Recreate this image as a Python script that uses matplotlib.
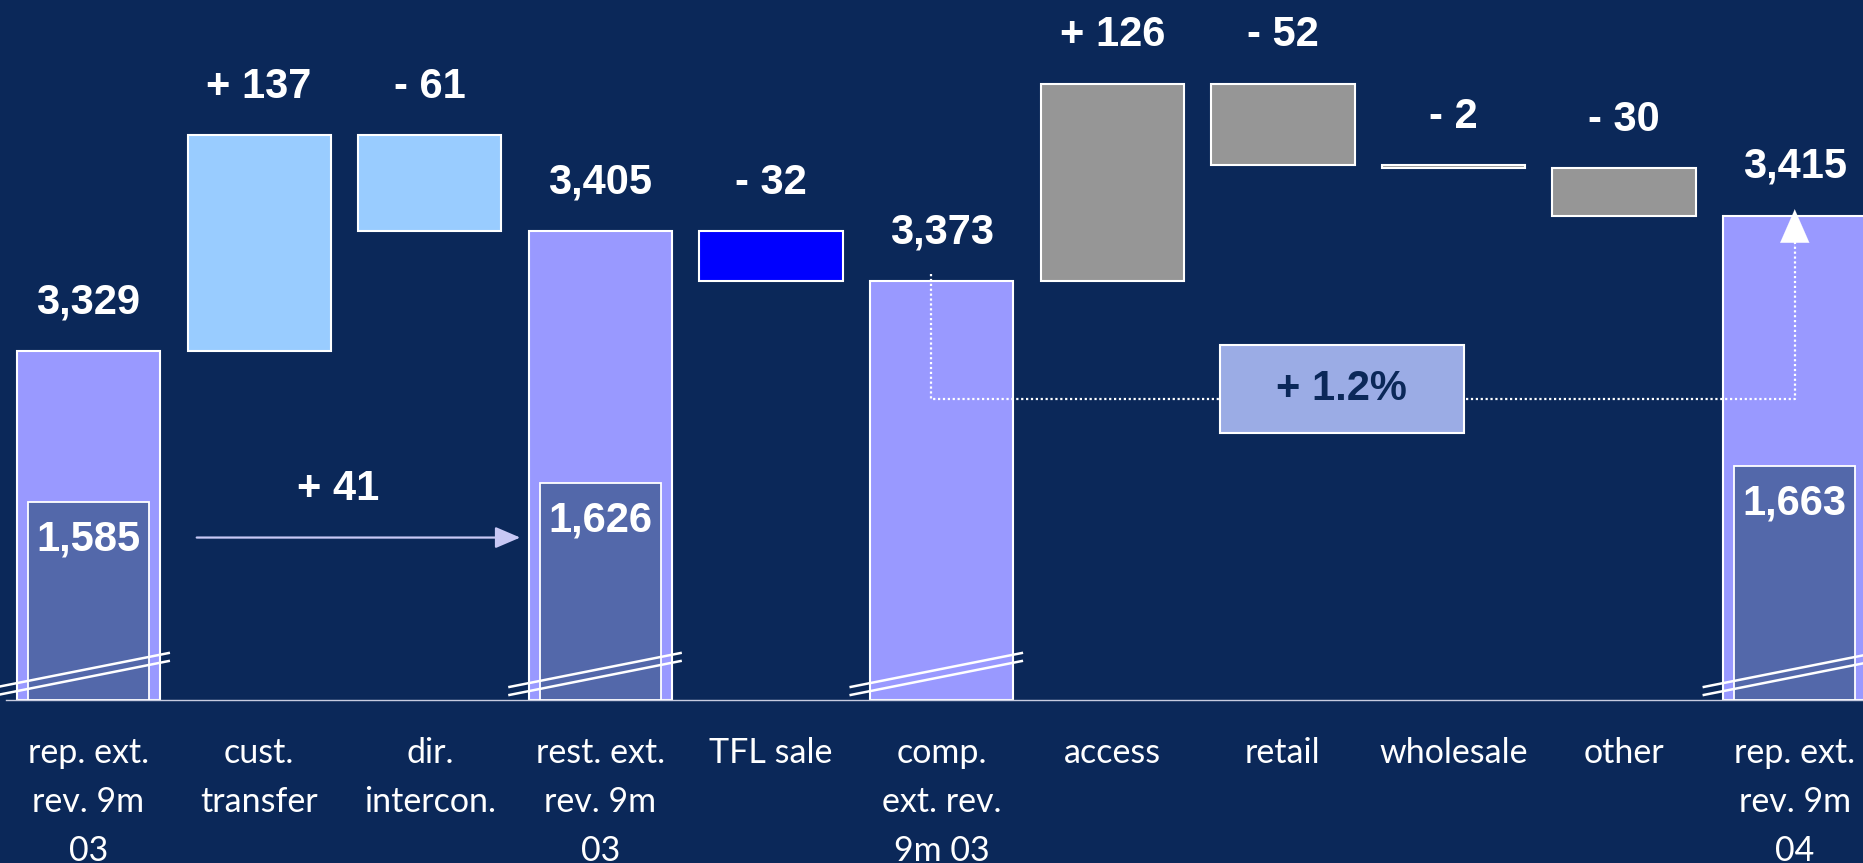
import numpy as np
import matplotlib.pyplot as plt
from matplotlib.patches import Rectangle

# bridge of external revenue, 9m 03 -> 9m 04
categories = ["rep. ext.\nrev. 9m\n03", "cust.\ntransfer", "dir.\nintercon.",
              "rest. ext.\nrev. 9m\n03", "TFL sale", "comp.\next. rev.\n9m 03",
              "access", "retail", "wholesale", "other", "rep. ext.\nrev. 9m\n04"]
values = [3329, 137, -61, 3405, -32, 3373, 126, -52, -2, -30, 3415]
is_total = [True, False, False, True, False, True, False, False, False, False, True]

# domestic part shown inside the total bars
inner_pos = [0, 3, 10]
inner_values = [1585, 1626, 1663]

BG = "#0B2859"
bar_colors = ["#9999FF", "#99CCFF", "#99CCFF", "#9999FF", "#0000FF", "#9999FF",
              "#969696", "#969696", "#969696", "#969696", "#9999FF"]

# broken axes: both scales start well above zero
BASE, TOP = 3106.6, 3552.2
IN_BASE, IN_TOP = 1150.8, 2682.9

plt.rcParams['font.family'] = ['Liberation Sans', 'DejaVu Sans']

fig = plt.figure(figsize=(18.63, 8.63), dpi=100, facecolor=BG)
ax = fig.add_axes([0.0032, 0.1889, 0.9968, 0.8111])
ax.set_facecolor(BG)

x = np.arange(len(values))
bottoms, heights, tops = [], [], []
run = 0
for v, tot in zip(values, is_total):
    if tot:
        run = v
        bottoms.append(BASE)
        heights.append(v - BASE)
        tops.append(v)
    else:
        bottoms.append(run)
        heights.append(v)
        tops.append(max(run, run + v))
        run += v

ax.bar(x, heights, bottom=bottoms, width=0.84, color=bar_colors,
       edgecolor="white", linewidth=1.5, zorder=2)

for xi, v, tot, t in zip(x, values, is_total, tops):
    if tot:
        s = f"{v:,}"
    else:
        s = ("+ " if v > 0 else "- ") + str(abs(v))
    ax.annotate(s, (xi, t), xytext=(0, 35), textcoords="offset points",
                ha="center", va="center", color="white", fontsize=30,
                fontweight="bold", zorder=5)

# comparable growth, comp. 9m 03 -> rep. 9m 04
growth = (values[10] / values[5] - 1) * 100
ax.plot([4.94, 4.94, 10.0, 10.0], [3378, 3298, 3298, 3400], color="white",
        lw=1.6, ls=(0, (1, 1.2)), zorder=3)
ax.annotate("", xy=(10.0, 3419), xytext=(10.0, 3395),
            arrowprops=dict(arrowstyle="-|>,head_length=0.8,head_width=0.35",
                            mutation_scale=30, color="white", lw=0.1,
                            shrinkA=0, shrinkB=0), zorder=3)
ax.add_patch(Rectangle((6.63, 3276.5), 1.43, 56, facecolor="#9BACE5",
                       edgecolor="white", lw=1.5, zorder=4))
ax.text(7.345, 3304.5, f"+ {growth:.1f}%", ha="center", va="center",
        color=BG, fontsize=30, fontweight="bold", zorder=5)

# inner bars on their own scale
ax2 = ax.twinx()
ax2.bar(inner_pos, [v - IN_BASE for v in inner_values], bottom=IN_BASE,
        width=0.71, color="#5368AA", edgecolor="white", linewidth=1.3, zorder=2)
for p, v in zip(inner_pos, inner_values):
    ax2.annotate(f"{v:,}", (p, v), xytext=(0, -27), textcoords="offset points",
                 ha="center", va="center", color="white", fontsize=30,
                 fontweight="bold", zorder=5)

d = inner_values[1] - inner_values[0]
ax.annotate("", xy=(2.53, 3210), xytext=(0.634, 3210),
            arrowprops=dict(arrowstyle="-|>,head_length=0.7,head_width=0.3",
                            mutation_scale=22, color="#C8C8F5", lw=1.6,
                            shrinkA=0, shrinkB=0))
ax.annotate(f"+ {d}", (1.46, 3210), xytext=(0, 35), textcoords="offset points",
            ha="center", va="center", color="white", fontsize=30, fontweight="bold")

# axis break marks across the total bars
for i in [0, 3, 5, 10]:
    for lo, hi in [(8.3, 29.9), (3.2, 24.8)]:
        ax2.plot([i - 0.533, i + 0.47], [BASE + lo, BASE + hi], color="white",
                 lw=1.8, transform=ax.transData, clip_on=False, zorder=6)

ax.set_xlim(-0.484, 10.40)
ax.set_ylim(BASE, TOP)
ax2.set_ylim(IN_BASE, IN_TOP)

ax.set_xticks(x, categories, color="white", fontsize=24.5, family="Lato",
              linespacing=1.64)
ax.tick_params(axis="x", length=0, pad=27)
ax.set_yticks([])
ax2.set_yticks([])
for side in ["top", "left", "right"]:
    ax.spines[side].set_visible(False)
for side in ax2.spines:
    ax2.spines[side].set_visible(False)
ax.spines["bottom"].set_color("#C8CCE0")
ax.spines["bottom"].set_linewidth(1)

plt.savefig("out.png", dpi=100, facecolor=BG)
